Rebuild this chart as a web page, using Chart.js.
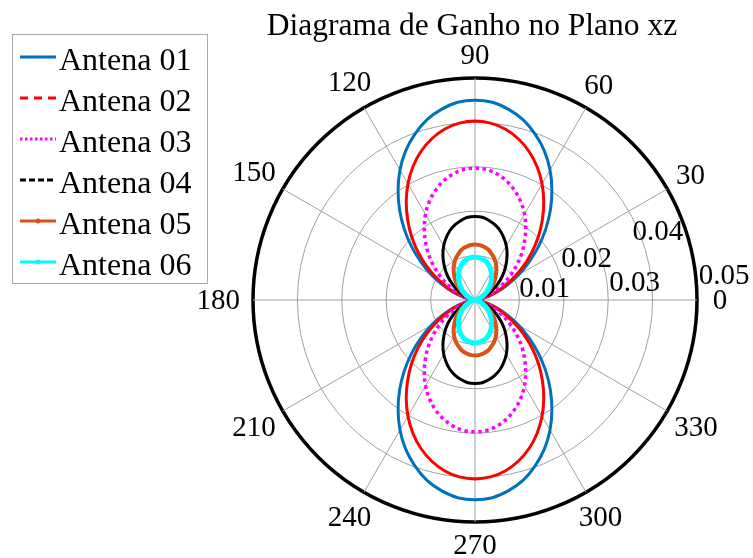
<!DOCTYPE html>
<html>
<head>
<meta charset="utf-8">
<script src="https://cdn.jsdelivr.net/npm/chart.js@4.4.1/dist/chart.umd.min.js"></script>
<style>
  html, body { margin: 0; padding: 0; background: #ffffff; }
  canvas { display: block; }
</style>
</head>
<body>
<canvas id="chart" width="753" height="558"></canvas>
<script>
// Gain pattern in the xz plane, six antennas.
const titleText = 'Diagrama de Ganho no Plano xz';
const seriesNames = ['Antena 01', 'Antena 02', 'Antena 03', 'Antena 04', 'Antena 05', 'Antena 06'];

// Angles (degrees) of one quadrant; the pattern is symmetric about both axes.
const quarterAngles = [0, 5, 10, 15, 20, 25, 30, 35, 40, 45, 50, 55, 60, 65, 70, 75, 80, 85, 90];

// Gain per antenna over that quadrant.
const gain01 = [0, 0.0003, 0.0014, 0.0030, 0.0053, 0.0080, 0.0113, 0.0148, 0.0186, 0.0225, 0.0264, 0.0302, 0.0338, 0.0370, 0.0397, 0.0420, 0.0436, 0.0447, 0.0450];
const gain02 = [0, 0.0003, 0.0012, 0.0027, 0.0047, 0.0072, 0.0101, 0.0133, 0.0167, 0.0202, 0.0236, 0.0270, 0.0302, 0.0331, 0.0356, 0.0376, 0.0391, 0.0400, 0.0403];
const gain03 = [0, 0.0002, 0.0009, 0.0020, 0.0035, 0.0053, 0.0074, 0.0098, 0.0123, 0.0149, 0.0174, 0.0199, 0.0223, 0.0244, 0.0262, 0.0277, 0.0288, 0.0295, 0.0297];
const gain04 = [0, 0.0001, 0.0006, 0.0013, 0.0022, 0.0034, 0.0047, 0.0062, 0.0078, 0.0094, 0.0110, 0.0126, 0.0141, 0.0154, 0.0166, 0.0175, 0.0182, 0.0187, 0.0188];
const gain05 = [0, 0.0001, 0.0004, 0.0008, 0.0015, 0.0022, 0.0031, 0.0041, 0.0052, 0.0063, 0.0073, 0.0084, 0.0094, 0.0103, 0.0110, 0.0117, 0.0121, 0.0124, 0.0125];
const gain06 = [0, 0.0001, 0.0003, 0.0006, 0.0011, 0.0017, 0.0024, 0.0032, 0.0040, 0.0049, 0.0057, 0.0065, 0.0073, 0.0080, 0.0086, 0.0091, 0.0094, 0.0096, 0.0097];

const radialTicks = [0.01, 0.02, 0.03, 0.04, 0.05];
const angleTicks = [0, 30, 60, 90, 120, 150, 180, 210, 240, 270, 300, 330];

const FONT = "'Liberation Serif', 'Times New Roman', serif";
const STEP = 5;

// Radar runs clockwise; starting at the right (0°) each spoke is 5° lower.
const angleLabels = [];
for (let i = 0; i < 360 / STEP; i++) angleLabels.push((360 - i * STEP) % 360);

function fullCircle(quarter) {
  return angleLabels.map(a => {
    let m = a % 180;
    if (m > 90) m = 180 - m;
    return quarter[quarterAngles.indexOf(m)];
  });
}

const styles = [
  { color: '#0072BD', width: 3,   dash: [],     legendDash: [] },
  { color: '#FF0000', width: 3,   dash: [],     legendDash: [8, 6] },
  { color: '#FF00FF', width: 3.5, dash: [3.5, 3.5], legendDash: [2.5, 2.5] },
  { color: '#000000', width: 3,   dash: [],     legendDash: [6, 3] },
  { color: '#D95319', width: 4,   dash: [],     legendDash: [], marker: true },
  { color: '#00FFFF', width: 5,   dash: [],     legendDash: [], marker: true }
];
const gains = [gain01, gain02, gain03, gain04, gain05, gain06];

const datasets = gains.map((g, i) => ({
  label: seriesNames[i],
  data: fullCircle(g),
  borderColor: styles[i].color,
  backgroundColor: styles[i].color,
  borderWidth: styles[i].width,
  borderDash: styles[i].dash,
  fill: false,
  tension: 0.35,
  pointRadius: 0,
  order: gains.length - i,
  legendDash: styles[i].legendDash,
  legendMarker: !!styles[i].marker
}));

const decorations = {
  id: 'decorations',
  afterDatasetsDraw(chart) {
    const ctx = chart.ctx;
    const r = chart.scales.r;
    ctx.save();
    ctx.fillStyle = '#000';

    // Title
    ctx.font = '31.5px ' + FONT;
    ctx.textAlign = 'center';
    ctx.textBaseline = 'alphabetic';
    ctx.fillText(titleText, 472, 35);

    // Angle labels around the outer ring
    ctx.font = '29px ' + FONT;
    ctx.textBaseline = 'middle';
    angleTicks.forEach(a => {
      const idx = angleLabels.indexOf(a);
      const txt = String(a);
      const w = ctx.measureText(txt).width;
      const rad = a * Math.PI / 180;
      const dist = r.drawingArea + 23 + Math.max(0, w / 2 - 10) * Math.abs(Math.cos(rad));
      const p = r.getPointPosition(idx, dist);
      ctx.fillText(txt, p.x, p.y + 1);
    });

    // Radial tick labels, staggered between two directions
    const layout = [{ a: 4, k: 1.0 }, { a: 21, k: 1.04 }, { a: 4, k: 1.01 }, { a: 21, k: 0.95 }, { a: 4, k: 1.01 }];
    ctx.textAlign = 'left';
    ctx.textBaseline = 'alphabetic';
    radialTicks.forEach((v, i) => {
      const d = r.getDistanceFromCenterForValue(v) * layout[i].k;
      const rad = layout[i].a * Math.PI / 180;
      ctx.fillText(v.toFixed(2), r.xCenter + d * Math.cos(rad), r.yCenter - d * Math.sin(rad));
    });

    // Legend box
    const bx = 12, by = 34, bw = 195, bh = 249;
    ctx.fillStyle = '#fff';
    ctx.fillRect(bx, by, bw, bh);
    ctx.strokeStyle = '#a8a8a8';
    ctx.lineWidth = 1;
    ctx.strokeRect(bx + 0.5, by + 0.5, bw, bh);
    ctx.font = '32px ' + FONT;
    chart.data.datasets.forEach((ds, i) => {
      const y = 57 + i * 41;
      ctx.strokeStyle = ds.borderColor;
      ctx.lineWidth = 3;
      ctx.setLineDash(ds.legendDash);
      ctx.beginPath();
      ctx.moveTo(20, y);
      ctx.lineTo(56, y);
      ctx.stroke();
      ctx.setLineDash([]);
      if (ds.legendMarker) {
        ctx.fillStyle = ds.borderColor;
        ctx.beginPath();
        ctx.arc(38, y, 2.5, 0, Math.PI * 2);
        ctx.fill();
      }
      ctx.fillStyle = '#000';
      ctx.fillText(ds.label, 59, y + 13);
    });
    ctx.restore();
  }
};

new Chart(document.getElementById('chart'), {
  type: 'radar',
  data: { labels: angleLabels, datasets },
  options: {
    responsive: false,
    animation: false,
    layout: { padding: { left: 253, top: 78, right: 56, bottom: 36 } },
    plugins: { legend: { display: false }, tooltip: { enabled: false }, title: { display: false } },
    elements: { line: { borderCapStyle: 'butt', borderJoinStyle: 'round' } },
    scales: {
      r: {
        min: 0,
        max: 0.05,
        startAngle: 90,
        ticks: { display: false, stepSize: 0.01 },
        pointLabels: { display: false },
        grid: {
          circular: true,
          color: c => (Math.abs(c.tick.value - 0.05) < 1e-9 ? '#000' : '#a0a0a0'),
          lineWidth: c => (Math.abs(c.tick.value - 0.05) < 1e-9 ? 3.5 : 1)
        },
        angleLines: {
          color: '#a0a0a0',
          lineWidth: c => (angleLabels[c.index] % 30 === 0 ? 1 : 0)
        }
      }
    }
  },
  plugins: [decorations]
});
</script>
</body>
</html>
